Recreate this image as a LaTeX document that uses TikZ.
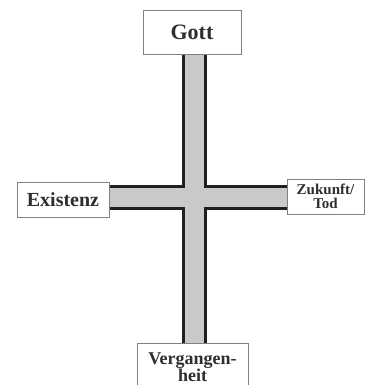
\documentclass[tikz,border=0pt]{standalone}
\usepackage{fontspec}
\setmainfont{Liberation Serif}
\usetikzlibrary{backgrounds}
\definecolor{balken}{gray}{0.79}
\definecolor{kante}{gray}{0.12}
\definecolor{rand}{gray}{0.5}
\definecolor{schrift}{gray}{0.18}

\begin{document}
\begin{tikzpicture}[x=1pt,y=-1pt,
    feld/.style={draw=rand, line width=0.8pt, fill=white, text=schrift, align=center, inner sep=0pt},
    aussen/.style={draw=kante, line width=25pt},
    innen/.style={draw=balken, line width=18.5pt}]
        \clip (0,0) rectangle (367,385);
        \coordinate(mitte) at (194.5,197.5);
        \node[feld, minimum width=98, minimum height=44, font=\bfseries\fontsize{22}{24}\selectfont](gott) at (192,32) {Gott};
        \node[feld, minimum width=92, minimum height=35, font=\bfseries\fontsize{20}{22}\selectfont](exist) at (63,199.5) {Existenz};
        \node[feld, minimum width=77, minimum height=35, font=\bfseries\fontsize{15}{13.5}\selectfont](zuk) at (325.5,196.5) {Zukunft/\\Tod};
        \node[feld, minimum width=111, inner ysep=9, anchor=north, font=\bfseries\fontsize{18}{17}\selectfont](verg) at (192.5,343) {Vergangen-\\heit};
        \begin{pgfonlayer}{background}
        \draw[aussen](gott.south -| mitte)--(verg.north -| mitte);
        \draw[aussen](exist.east |- mitte)--(zuk.west |- mitte);
        \draw[innen](gott.south -| mitte)--(verg.north -| mitte);
        \draw[innen](exist.east |- mitte)--(zuk.west |- mitte);
        \end{pgfonlayer}
\end{tikzpicture}
\end{document}
